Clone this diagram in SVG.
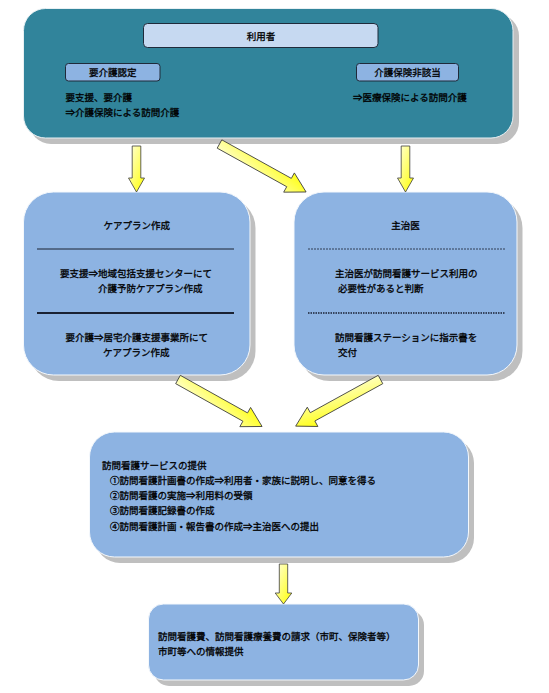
<svg xmlns="http://www.w3.org/2000/svg" width="549" height="693" viewBox="0 0 549 693">
<defs>
<linearGradient id="ag" x1="0" y1="1" x2="1" y2="0">
<stop offset="0" stop-color="#ffffe0"/>
<stop offset="0.55" stop-color="#ffff66"/>
<stop offset="1" stop-color="#ffff00"/>
</linearGradient>
<style>
text{font-family:"Noto Sans CJK JP","Noto Sans CJK SC",sans-serif;font-size:9.5px;fill:#000;stroke:#000;stroke-width:0.3}
.c{text-anchor:middle}
.sh{fill:#bfbfbf}
.box{fill:#8db3e2;stroke:#f4f8fc;stroke-width:1}
.top{fill:#31849b;stroke:#e8f0f3;stroke-width:1}
.lab{stroke:#1f2a3a;stroke-width:1}
.arr{fill:url(#ag);stroke:#3c3c3c;stroke-width:0.8;stroke-linejoin:miter}
</style>
</defs>
<rect width="549" height="693" fill="#ffffff"/>

<g id="node-user">
<rect class="sh" x="29" y="14" width="490" height="130" rx="22"/>
<rect class="top" x="23.5" y="8.5" width="489.5" height="129.5" rx="22"/>
<rect class="lab" x="143.5" y="23.5" width="234.5" height="24" rx="4" fill="#c6d9f1"/>
<text class="c" x="261" y="39.5">利用者</text>
<rect class="lab" x="65.5" y="63.5" width="94.5" height="17.5" rx="3" fill="#8db3e2"/>
<text class="c" x="112.7" y="76">要介護認定</text>
<rect class="lab" x="356.5" y="63.5" width="102" height="17.5" rx="3" fill="#8db3e2"/>
<text class="c" x="407.5" y="76">介護保険非該当</text>
<text x="65.5" y="100.5">要支援、要介護</text>
<text x="65.5" y="115.5">⇒介護保険による訪問介護</text>
<text x="353" y="100.5">⇒医療保険による訪問介護</text>
</g>

<g id="node-careplan">
<rect class="sh" x="29" y="198" width="226.5" height="183" rx="30"/>
<rect class="box" x="23.5" y="192" width="226.5" height="183" rx="30"/>
<text class="c" x="136.75" y="228.5">ケアプラン作成</text>
<line x1="37" y1="249" x2="234" y2="249" stroke="#1a2233" stroke-width="1"/>
<line x1="37" y1="313" x2="234" y2="313" stroke="#1a2233" stroke-width="1.8"/>
<text x="60" y="276.5">要支援⇒地域包括支援センターにて</text>
<text x="98" y="291.5">介護予防ケアプラン作成</text>
<text x="65.5" y="340.5">要介護⇒居宅介護支援事業所にて</text>
<text x="103" y="355.5">ケアプラン作成</text>
</g>

<g id="node-doctor">
<rect class="sh" x="299.5" y="198" width="223" height="183" rx="30"/>
<rect class="box" x="294" y="192" width="223" height="183" rx="30"/>
<text class="c" x="405.5" y="228.5">主治医</text>
<line x1="308" y1="249" x2="505" y2="249" stroke="#1a2233" stroke-width="0.8" stroke-dasharray="2 1"/>
<line x1="308" y1="313" x2="505" y2="313" stroke="#1a2233" stroke-width="1.6" stroke-dasharray="1.5 1"/>
<text x="335" y="276.5">主治医が訪問看護サービス利用の</text>
<text x="338" y="291.5">必要性があると判断</text>
<text x="335" y="340.5">訪問看護ステーションに指示書を</text>
<text x="338" y="355.5">交付</text>
</g>

<g id="node-service">
<rect class="sh" x="95" y="438" width="379" height="125" rx="25"/>
<rect class="box" x="89.5" y="432" width="379" height="125" rx="25"/>
<text x="102" y="468.5">訪問看護サービスの提供</text>
<text x="110" y="483.8">①訪問看護計画書の作成⇒利用者・家族に説明し、同意を得る</text>
<text x="110" y="499.1">②訪問看護の実施⇒利用料の受領</text>
<text x="110" y="514.4">③訪問看護記録書の作成</text>
<text x="110" y="529.7">④訪問看護計画・報告書の作成⇒主治医への提出</text>
</g>

<g id="node-billing">
<rect class="sh" x="154" y="610" width="270" height="76" rx="15"/>
<rect class="box" x="148.5" y="604" width="270" height="76" rx="15"/>
<text x="158" y="639.5">訪問看護費、訪問看護療養費の請求（市町、保険者等）</text>
<text x="158" y="654.5">市町等への情報提供</text>
</g>

<g id="connectors">
<path class="arr" transform="translate(136.5,146) rotate(90)" d="M0,-4.3 L32,-4.3 L32,-8 L46,0 L32,8 L32,4.3 L0,4.3 Z"/>
<path class="arr" transform="translate(405.5,146) rotate(90)" d="M0,-4.3 L32,-4.3 L32,-8 L46,0 L32,8 L32,4.3 L0,4.3 Z"/>
<path class="arr" transform="translate(219.5,144) rotate(29)" d="M0,-4.75 L79.5,-4.75 L79.5,-11 L99,0 L79.5,11 L79.5,4.75 L0,4.75 Z"/>
<path class="arr" transform="translate(178,379.5) rotate(29.2)" d="M0,-4.75 L77,-4.75 L77,-11 L96.3,0 L77,11 L77,4.75 L0,4.75 Z"/>
<path class="arr" transform="translate(380.5,379.5) rotate(151.2)" d="M0,-4.75 L77.5,-4.75 L77.5,-11 L96.8,0 L77.5,11 L77.5,4.75 L0,4.75 Z"/>
<path class="arr" transform="translate(283.5,564) rotate(90)" d="M0,-4.2 L29,-4.2 L29,-8.3 L40,0 L29,8.3 L29,4.2 L0,4.2 Z"/>
</g>
</svg>
